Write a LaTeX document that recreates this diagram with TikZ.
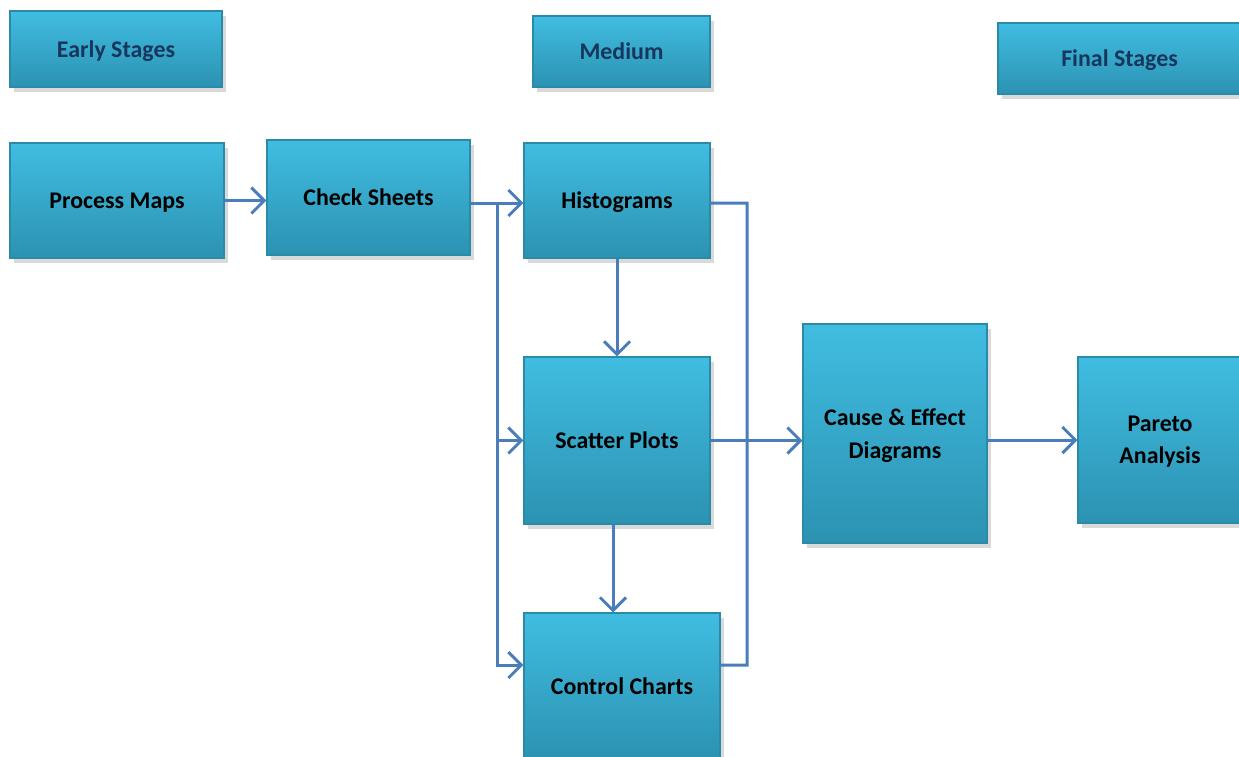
\documentclass[tikz,border=0pt]{standalone}
\usepackage{fontspec}
\setmainfont{Carlito}
\usepackage{xcolor}
\usepackage{tikz}
\usetikzlibrary{arrows.meta, calc, shadows}
\definecolor{boxtop}{HTML}{40BDE1}
\definecolor{boxbot}{HTML}{2C92B2}
\definecolor{boxedge}{HTML}{2A8AA8}
\definecolor{stagetext}{HTML}{17365D}
\definecolor{flowline}{HTML}{4A7EBB}
\tikzset{
  toolbox/.style={draw=boxedge, line width=0.3pt, top color=boxtop, bottom color=boxbot,
    drop shadow={shadow xshift=0.4mm, shadow yshift=-0.5mm, opacity=0.3},
    font=\fontsize{6.8}{9.2}\selectfont\bfseries, align=center, inner sep=0pt, text depth=0pt},
  stagebox/.style={toolbox, text=stagetext},
  flow/.style={flowline, line width=0.85pt, -{Straight Barb[length=1.3mm, width=2.6mm, line width=0.85pt]}},
  link/.style={flowline, line width=0.85pt}
}
\begin{document}
\begin{tikzpicture}
  \useasboundingbox (0,0) rectangle (12.39,-7.56);
  % stage labels
  \node[stagebox, minimum width=2.12cm, minimum height=0.76cm] (early) at (1.16,-0.49) {Early Stages};
  \node[stagebox, minimum width=1.77cm, minimum height=0.71cm] (medium) at (6.215,-0.515) {Medium};
  \node[stagebox, minimum width=2.43cm, minimum height=0.71cm] (final) at (11.195,-0.585) {Final Stages};
  % tools
  \node[toolbox, minimum width=2.14cm, minimum height=1.15cm] (proc) at (1.17,-2.005) {Process Maps};
  \node[toolbox, minimum width=2.03cm, minimum height=1.15cm] (check) at (3.685,-1.975) {Check Sheets};
  \node[toolbox, minimum width=1.86cm, minimum height=1.15cm] (hist) at (6.17,-2.005) {Histograms};
  \node[toolbox, minimum width=1.86cm, minimum height=1.67cm] (scatter) at (6.17,-4.405) {Scatter Plots};
  \node[toolbox, minimum width=1.96cm, minimum height=1.46cm] (control) at (6.22,-6.86) {Control Charts};
  \node[toolbox, minimum width=1.84cm, minimum height=2.19cm] (cause) at (8.95,-4.335) {Cause \& Effect\\Diagrams};
  \node[toolbox, minimum width=1.64cm, minimum height=1.66cm] (pareto) at (11.6,-4.4) {Pareto\\Analysis};
  \coordinate (split) at (4.97,-2.03);
  \coordinate (scout) at ($(scatter.south)+(-0.04,0)$);
  \coordinate (ctrlin) at ($(control.west)+(0,0.21)$);
  \coordinate (ctrlout) at ($(control.east)+(0,0.21)$);
  % connectors
  \draw[flow] (proc.east) -- (proc.east -| check.west);
  \draw[flow] (check.east |- split) -- (split -| hist.west);
  \draw[link] (split) -- (split |- ctrlin);
  \draw[flow] (split) |- (scatter.west);
  \draw[flow] (split) |- (ctrlin);
  \draw[flow] (hist.south) -- (scatter.north);
  \draw[flow] (scout) -- (scout |- control.north);
  \draw[link] (hist.east |- split) -| (7.47,-6.65) -- (ctrlout);
  \draw[flow] (scatter.east) -- (scatter.east -| cause.west);
  \draw[flow] (pareto.west -| cause.east) -- (pareto.west);
\end{tikzpicture}
\end{document}
